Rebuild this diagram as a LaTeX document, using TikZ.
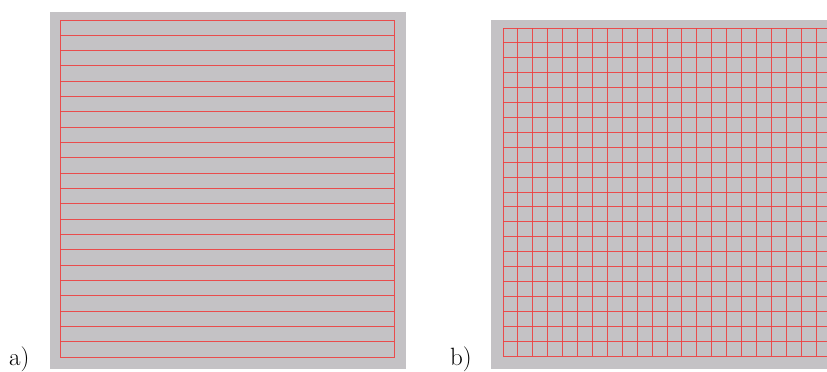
\documentclass[tikz,border=0pt]{standalone}
\usepackage{xcolor}
\usepackage{tikz}
\usetikzlibrary{positioning}
\definecolor{plategray}{RGB}{196, 194, 197}
\definecolor{gridred}{RGB}{238, 64, 64}

\begin{document}
\begin{tikzpicture}[
    x=1pt, y=-1pt,
    plate/.style={fill=plategray, draw=none},
    gridline/.style={draw=gridred, line width=1pt, opacity=0.9},
    panellabel/.style={anchor=base west, inner sep=0pt, font=\fontsize{25}{30}\selectfont},
]
    \useasboundingbox (0,0) rectangle (827,372);
    \clip (0,0) rectangle (827,372);

    % panel a: horizontal lines only
    \fill[plate] (50,12) rectangle (406,369);
    \draw[gridline] (60,20) rectangle (394,357);
    \foreach \i in {1,...,21}
        \draw[gridline] (60,{20+\i*337/22}) -- (394,{20+\i*337/22});
    \node[panellabel] (labA) at (9,365) {a)};

    % panel b: full grid
    \fill[plate] (491,20) rectangle (840,369);
    \foreach \i in {0,...,22} {
        \draw[gridline] (503,{28+\i*328/22}) -- (831,{28+\i*328/22});
        \draw[gridline] ({503+\i*328/22},28) -- ({503+\i*328/22},356);
    }
    \node[panellabel] (labB) at (450,365) {b)};
\end{tikzpicture}
\end{document}
